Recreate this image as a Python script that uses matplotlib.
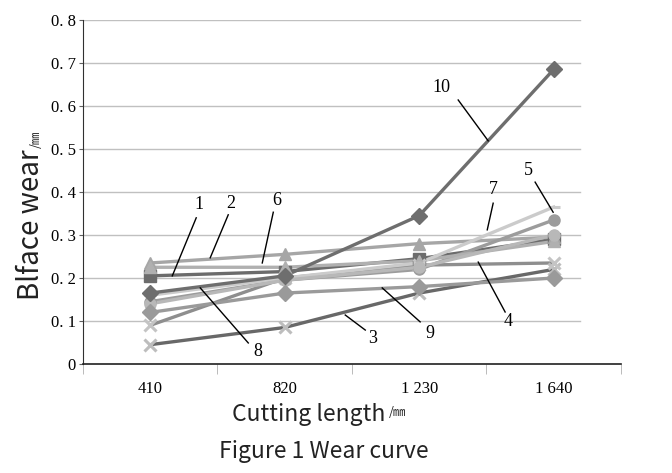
#!/usr/bin/env python3

# Wear curve: flank wear against cutting length for ten tools.

import matplotlib
matplotlib.use("Agg")
import matplotlib.pyplot as plt
import numpy as np

lengths = ["410", "820", "1 230", "1 640"]

wear1 = [0.205, 0.215, 0.245, 0.29]
wear2 = [0.235, 0.255, 0.28, 0.295]
wear3 = [0.045, 0.085, 0.165, 0.22]
wear4 = [0.09, 0.20, 0.23, 0.235]
wear5 = [0.145, 0.195, 0.22, 0.335]
wear6 = [0.225, 0.225, 0.24, 0.285]
wear7 = [0.16, 0.20, 0.235, 0.365]
wear8 = [0.14, 0.195, 0.225, 0.30]
wear9 = [0.12, 0.165, 0.18, 0.20]
wear10 = [0.165, 0.205, 0.345, 0.685]

curveNames = ["1", "2", "3", "4", "5", "6", "7", "8", "9", "10"]
curves = [wear1, wear2, wear3, wear4, wear5, wear6, wear7, wear8, wear9,
          wear10]

# (line colour, marker, marker colour) per curve
styles = [("#6c6c6c", "s", "#6c6c6c"),
          ("#a6a6a6", "^", "#a6a6a6"),
          ("#686868", "x", "#bdbdbd"),
          ("#8e8e8e", "x", "#c4c4c4"),
          ("#9c9c9c", "o", "#9c9c9c"),
          ("#b0b0b0", "^", "#b0b0b0"),
          ("#cbcbcb", "_", "#cbcbcb"),
          ("#b8b8b8", "o", "#b8b8b8"),
          ("#9a9a9a", "D", "#9a9a9a"),
          ("#6e6e6e", "D", "#6e6e6e")]

# Label text position, leader start, leader end (data coords)
labelSpots = [((0.364, 0.370), (0.342, 0.340), (0.164, 0.205)),
              ((0.595, 0.374), (0.580, 0.347), (0.446, 0.247)),
              ((1.651, 0.060), (1.599, 0.079), (1.450, 0.114)),
              ((2.662, 0.098), (2.639, 0.121), (2.439, 0.237)),
              ((2.810, 0.451), (2.862, 0.423), (2.996, 0.353)),
              ((0.944, 0.381), (0.915, 0.353), (0.833, 0.235)),
              ((2.550, 0.405), (2.550, 0.374), (2.506, 0.312)),
              ((0.803, 0.028), (0.729, 0.049), (0.372, 0.177)),
              ((2.082, 0.072), (2.007, 0.098), (1.725, 0.177)),
              ((2.164, 0.642), (2.290, 0.614), (2.513, 0.519))]

serif = "Liberation Serif"
sans = ["Noto Sans CJK SC", "DejaVu Sans"]

figure = plt.figure(figsize=(6.72, 4.73), dpi=100)
axes = figure.add_axes([0.1235, 0.2304, 0.8005, 0.7273])

xs = np.arange(len(lengths))

# Gridlines stop short of the right end of the axis
for yv in np.arange(0.1, 0.81, 0.1):
    axes.axhline(yv, xmin=0, xmax=0.924, color="#c0c0c0", lw=1.0, zorder=0)

for curve, (lineColour, marker, markerColour) in zip(curves, styles):
    axes.plot(xs, curve, color=lineColour, lw=2.4, zorder=2)
    axes.plot(xs, curve, ls="none", marker=marker, color=markerColour,
              markersize=8, mew=2.2 if marker in "x_" else 1, zorder=3)

for name, (textPos, leadStart, leadEnd) in zip(curveNames, labelSpots):
    axes.text(*textPos, name, family=serif, fontsize=13, ha="center",
              va="center", zorder=5)
    axes.plot([leadStart[0], leadEnd[0]], [leadStart[1], leadEnd[1]],
              color="black", lw=1.0, zorder=4)

axes.set_xlim(-0.5, 3.5)
axes.set_ylim(0, 0.8)

axes.set_xticks(xs)
axes.set_xticklabels(lengths, family=serif, fontsize=12)
axes.set_xticks(np.arange(-0.5, 3.6, 1.0), minor=True)
axes.tick_params(axis="x", which="major", length=0, pad=12)
axes.tick_params(axis="x", which="minor", length=7, color="#b0b0b0",
                 direction="out")

yticks = np.arange(0, 0.81, 0.1)
axes.set_yticks(yticks)
axes.set_yticklabels(["0"] + ["0. {}".format(i) for i in range(1, 9)],
                     family=serif, fontsize=12)
axes.tick_params(axis="y", length=3, pad=2, color="#606060")

for side in ["top", "right"]:
    axes.spines[side].set_visible(False)
axes.spines["left"].set_color("#303030")
axes.spines["bottom"].set_color("#202020")
axes.spines["bottom"].set_linewidth(1.2)

# Axis titles and caption
figure.text(0.046, 0.524, "Blface wear", family=sans, fontsize=20,
            weight="light", rotation=90, ha="center", va="center",
            color="#222222")
figure.text(0.054, 0.705, "/㎜", family=sans, fontsize=9, rotation=90,
            ha="center", va="center", color="#222222")
figure.text(0.459, 0.124, "Cutting length", family=sans, fontsize=16.5,
            weight="light", ha="center", va="center", color="#222222")
figure.text(0.578, 0.127, "/㎜", family=sans, fontsize=9,
            ha="left", va="center", color="#222222")
figure.text(0.482, 0.046, "Figure 1 Wear curve", family=sans, fontsize=16.5,
            weight="light", ha="center", va="center", color="#222222")

figure.savefig("out.png", dpi=100)
